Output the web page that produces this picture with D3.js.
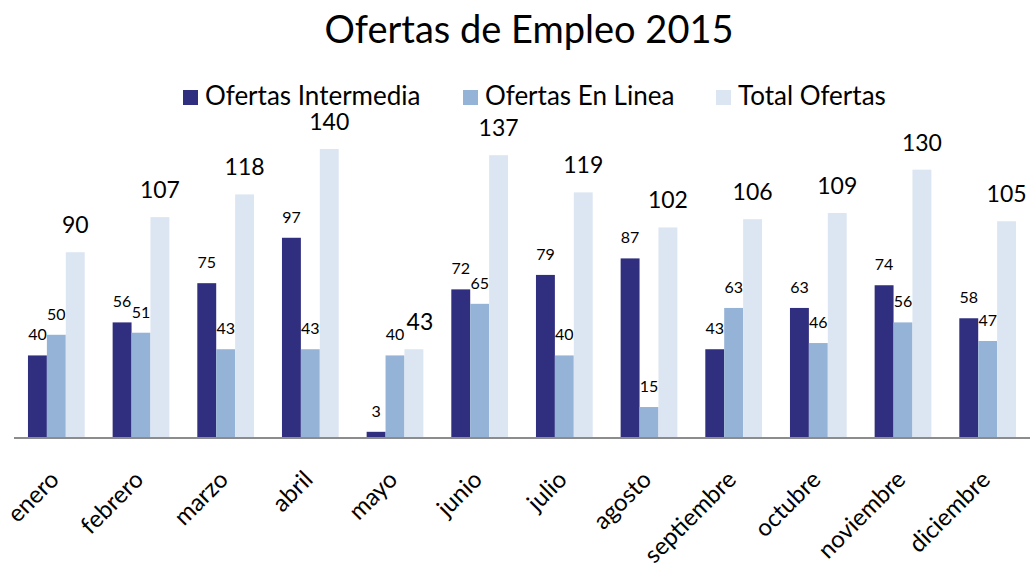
<html lang="es">
<head>
    <meta charset="utf-8">
    <title>Ofertas de Empleo 2015</title>
    <script src="https://cdn.jsdelivr.net/npm/d3@7"></script>
    <style type="text/css">
        body { margin: 0; background: #fff; }
        svg text { font-family: Lato, "Noto Sans", sans-serif; fill: #000; }
    </style>
</head>
<body>
<svg id="chart"></svg>
<script type="text/javascript">

    var months = ["enero", "febrero", "marzo", "abril", "mayo", "junio", "julio",
        "agosto", "septiembre", "octubre", "noviembre", "diciembre"];
    var intermedia = [40, 56, 75, 97, 3, 72, 79, 87, 43, 63, 74, 58];
    var enLinea = [50, 51, 43, 43, 40, 65, 40, 15, 63, 46, 56, 47];
    var total = [90, 107, 118, 140, 43, 137, 119, 102, 106, 109, 130, 105];
    var seriesNames = ["Ofertas Intermedia", "Ofertas En Linea", "Total Ofertas"];
    var colors = ["#302f7f", "#95b3d7", "#dce6f2"];

    var width = 1031, height = 563;
    var baseY = 438, left = 14, right = 1030;

    var svg = d3.select("#chart")
        .attr("width", width)
        .attr("height", height);

    var x = d3.scaleBand()
        .domain(months)
        .range([left, right])
        .paddingInner(0.33)
        .paddingOuter(0.165);

    var xs = d3.scaleBand()
        .domain([0, 1, 2])
        .range([0, x.bandwidth()]);

    var y = d3.scaleLinear()
        .domain([0, 140])
        .range([baseY, 149]);

    var series = [intermedia, enLinea, total];

    // bars
    series.forEach(function (vals, s) {
        svg.append("g")
            .selectAll("rect")
            .data(vals)
            .enter().append("rect")
            .attr("x", function (d, i) { return x(months[i]) + xs(s); })
            .attr("width", xs.bandwidth())
            .attr("y", function (d) { return y(d); })
            .attr("height", function (d) { return baseY - y(d); })
            .attr("fill", colors[s]);

        svg.append("g")
            .selectAll("text")
            .data(vals)
            .enter().append("text")
            .attr("x", function (d, i) {
                var cx = x(months[i]) + xs(s) + xs.bandwidth() / 2;
                // nudge total label right when it would sit on the en linea label
                if (s === 2 && d - enLinea[i] < 10) cx += 6;
                return cx;
            })
            .attr("y", function (d) { return y(d) - (s === 2 ? 19 : 15); })
            .attr("text-anchor", "middle")
            .style("font-size", s === 2 ? "23px" : "16px")
            .text(function (d) { return d; });
    });

    // axis
    var xAxis = svg.append("g")
        .attr("transform", "translate(0," + baseY + ")")
        .call(d3.axisBottom(x).tickSize(0).tickSizeOuter(0));
    xAxis.select(".domain")
        .attr("stroke", "#8c8c8c")
        .attr("stroke-width", 2)
        .attr("d", "M" + left + ",0H" + right);
    xAxis.selectAll("text")
        .style("font-size", "24px")
        .style("font-family", "Lato, sans-serif")
        .attr("fill", "#000")
        .attr("text-anchor", "end")
        .attr("x", 0)
        .attr("y", 0)
        .attr("dy", "0")
        .attr("transform", "translate(4,43) rotate(-45)");

    // title
    svg.append("text")
        .attr("x", 529)
        .attr("y", 43)
        .attr("text-anchor", "middle")
        .style("font-size", "38px")
        .text("Ofertas de Empleo 2015");

    // legend
    var legendX = [183, 463, 716];
    var legend = svg.append("g").selectAll("g")
        .data(seriesNames)
        .enter().append("g")
        .attr("transform", function (d, i) { return "translate(" + legendX[i] + ",90)"; });
    legend.append("rect")
        .attr("width", 15)
        .attr("height", 15)
        .attr("fill", function (d, i) { return colors[i]; });
    legend.append("text")
        .attr("x", 22)
        .attr("y", 15)
        .style("font-size", "26px")
        .text(function (d) { return d; });
</script>
</body>
</html>
